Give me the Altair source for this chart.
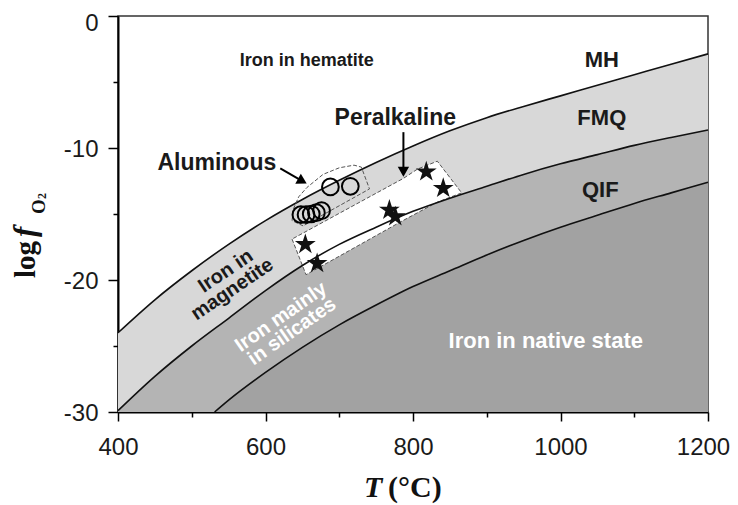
import altair as alt
import pandas as pd

# ---- buffer curves ----
T_GRID = [400, 450, 500, 550, 600, 650, 700, 750, 800, 850, 900, 950, 1000, 1050, 1100, 1150, 1200]
MH_LOGF = [-24.0, -21.5, -19.3, -17.3, -15.5, -13.9, -12.45, -11.1, -9.85, -8.7, -7.7, -6.85, -6.05, -5.25, -4.45, -3.65, -2.87]
FMQ_LOGF = [-29.9, -27.3, -25.0, -22.9, -20.8, -18.9, -17.3, -16.0, -14.8, -13.8, -12.9, -12.0, -11.2, -10.5, -9.8, -9.2, -8.64]
QIF_T = [531, 550, 600, 650, 700, 750, 800, 850, 900, 950, 1000, 1050, 1100, 1150, 1200]
QIF_LOGF = [-30.0, -29.1, -27.0, -25.1, -23.4, -21.9, -20.5, -19.3, -18.1, -17.0, -16.0, -15.1, -14.2, -13.4, -12.6]

# ---- samples ----
AL_T = [648, 655, 662, 669, 676, 688, 715]
AL_LOGF = [-15.05, -15.05, -15.0, -14.9, -14.75, -12.95, -12.9]
PA_T = [654, 670, 768, 776, 818, 841]
PA_LOGF = [-17.3, -18.75, -14.7, -15.2, -11.8, -13.05]

# ---- envelopes ----
AL_ENV_T = [651, 636, 638, 645, 656, 678, 700, 720, 730, 741]
AL_ENV_LOGF = [-15.9, -15.5, -14.6, -13.7, -13.0, -12.0, -11.5, -11.3, -11.45, -13.1]
PA_ENV_T = [636, 655, 700, 783, 833, 866, 833, 806, 787, 700]
PA_ENV_LOGF = [-16.9, -19.6, -18.2, -15.6, -14.1, -13.4, -11.0, -11.6, -12.3, -14.95]
PA_FILL_T = [636, 655, 700, 783, 787, 806, 833, 866]
PA_FILL_TOP = [-16.9, -16.32, -14.95, -12.42, -12.3, -11.6, -11.0, -13.4]
PA_FILL_BOT = [-16.9, -19.6, -18.2, -15.6, -15.48, -14.9, -14.1, -13.4]

# ---- arrows ----
AL_ARROW_T = [620, 650]
AL_ARROW_LOGF = [-11.55, -12.51]
PA_ARROW_T = [787, 787]
PA_ARROW_LOGF = [-8.8, -11.8]

# ---- labels ----
BLACK_LABELS = ["Iron in hematite", "MH", "FMQ", "QIF", "Peralkaline", "Aluminous"]
BLACK_LABEL_T = [656, 1056, 1056, 1054, 776, 534]
BLACK_LABEL_LOGF = [-3.39, -3.34, -7.76, -13.2, -7.76, -11.17]
BLACK_LABEL_SIZE = [18, 22, 22, 22, 23, 23]
MAG_LABELS = ["Iron in", "magnetite"]
MAG_T = [546, 555]
MAG_LOGF = [-19.33, -20.7]
SIL_LABELS = ["Iron mainly", "in silicates"]
SIL_T = [621, 636]
SIL_LOGF = [-22.8, -23.9]
NATIVE_LABEL = ["Iron in native state"]
NATIVE_T = [980]
NATIVE_LOGF = [-24.6]

X_TICKS = [400, 500, 600, 700, 800, 900, 1000, 1100, 1200]
Y_TICKS = [-30, -25, -20, -15, -10, -5, 0]

STAR = "M0,-1L0.2245,-0.309L0.951,-0.309L0.363,0.118L0.588,0.809L0,0.382L-0.588,0.809L-0.363,0.118L-0.951,-0.309L-0.2245,-0.309Z"

curves = pd.DataFrame({"T": T_GRID, "MH": MH_LOGF, "FMQ": FMQ_LOGF})
qif = pd.DataFrame({"T": QIF_T, "QIF": QIF_LOGF})
al = pd.DataFrame({"T": AL_T, "logf": AL_LOGF})
pa = pd.DataFrame({"T": PA_T, "logf": PA_LOGF})
al_env = pd.DataFrame({"T": AL_ENV_T, "logf": AL_ENV_LOGF, "i": range(len(AL_ENV_T))})
pa_env = pd.DataFrame({"T": PA_ENV_T, "logf": PA_ENV_LOGF, "i": range(len(PA_ENV_T))})
pa_fill = pd.DataFrame({"T": PA_FILL_T, "top": PA_FILL_TOP, "bot": PA_FILL_BOT})
al_arrow = pd.DataFrame({"T": AL_ARROW_T, "logf": AL_ARROW_LOGF})
pa_arrow = pd.DataFrame({"T": PA_ARROW_T, "logf": PA_ARROW_LOGF})
blab = pd.DataFrame({"T": BLACK_LABEL_T, "logf": BLACK_LABEL_LOGF, "label": BLACK_LABELS, "size": BLACK_LABEL_SIZE})
mag = pd.DataFrame({"T": MAG_T, "logf": MAG_LOGF, "label": MAG_LABELS})
sil = pd.DataFrame({"T": SIL_T, "logf": SIL_LOGF, "label": SIL_LABELS})
nat = pd.DataFrame({"T": NATIVE_T, "logf": NATIVE_LOGF, "label": NATIVE_LABEL})

xscale = alt.Scale(domain=[400, 1200], nice=False, zero=False)
yscale = alt.Scale(domain=[-30, 0], nice=False, zero=False)
xaxis = alt.Axis(
    title=None, values=X_TICKS, grid=False, labelFlush=False,
    labelExpr="datum.value % 200 == 0 ? '' + datum.value : ''",
    tickSize={"condition": {"test": "datum.value % 200 == 0", "value": 9}, "value": 5},
    labelOffset={"condition": {"test": "datum.value == 1200", "value": -5}, "value": 0},
    labelPadding=14,
)
yaxis = alt.Axis(
    title=None, values=Y_TICKS, grid=False, labelFlush=False,
    labelExpr="datum.value % 10 == 0 ? '' + datum.value : ''",
    tickSize={"condition": {"test": "datum.value % 10 == 0", "value": 10}, "value": 5},
    labelOffset={"condition": {"test": "datum.value == 0", "value": 7}, "value": 1},
    labelPadding=10,
)


def X(f="T"):
    return alt.X(f"{f}:Q", scale=xscale, axis=xaxis)


def Y(f):
    return alt.Y(f"{f}:Q", scale=yscale, axis=yaxis)


base_c = alt.Chart(curves)
area_mag = base_c.mark_area(color="#d8d8d8", interpolate="monotone").encode(x=X(), y=Y("MH"), y2="FMQ:Q")
area_sil = base_c.mark_area(color="#b4b4b4", interpolate="monotone").encode(x=X(), y=Y("FMQ"), y2=alt.datum(-30))
area_nat = alt.Chart(qif).mark_area(color="#a2a2a2", interpolate="monotone").encode(x=X(), y=Y("QIF"), y2=alt.datum(-30))

pa_white = alt.Chart(pa_fill).mark_area(color="white").encode(x=X(), y=Y("top"), y2="bot:Q")
pa_outline = alt.Chart(pa_env).mark_line(color="#555", strokeWidth=1, strokeDash=[4, 2], interpolate="linear-closed").encode(
    x=X(), y=Y("logf"), order="i:Q")

line_mh = base_c.mark_line(color="#111", strokeWidth=1.6, interpolate="monotone").encode(x=X(), y=Y("MH"))
line_fmq = base_c.mark_line(color="#111", strokeWidth=1.6, interpolate="monotone").encode(x=X(), y=Y("FMQ"))
line_qif = alt.Chart(qif).mark_line(color="#111", strokeWidth=1.6, interpolate="monotone").encode(x=X(), y=Y("QIF"))

al_outline = alt.Chart(al_env).mark_line(color="#555", strokeWidth=1, strokeDash=[4, 2], interpolate="linear-closed").encode(
    x=X(), y=Y("logf"), order="i:Q")

circles = alt.Chart(al).mark_point(shape="circle", filled=False, color="black", strokeWidth=2, size=280, opacity=1).encode(
    x=X(), y=Y("logf"))
stars = alt.Chart(pa).mark_point(shape=STAR, filled=True, color="#111", size=480, opacity=1).encode(x=X(), y=Y("logf"))

arr1 = alt.Chart(al_arrow).mark_line(color="black", strokeWidth=2).encode(x=X(), y=Y("logf"))
arr1h = alt.Chart(al_arrow.iloc[[1]]).mark_point(shape="triangle-right", filled=True, color="black", size=130, angle=29, opacity=1).encode(
    x=X(), y=Y("logf"))
arr2 = alt.Chart(pa_arrow).mark_line(color="black", strokeWidth=2).encode(x=X(), y=Y("logf"))
arr2h = alt.Chart(pa_arrow.iloc[[1]]).mark_point(shape="triangle-down", filled=True, color="black", size=130, opacity=1).encode(
    x=X(), y=Y("logf"))

txt_black = alt.Chart(blab).mark_text(font="Liberation Sans", fontWeight="bold", color="#1a1a1a", align="center", baseline="middle").encode(
    x=X(), y=Y("logf"), text="label:N", size=alt.Size("size:Q", scale=None, legend=None))
txt_mag = alt.Chart(mag).mark_text(font="Liberation Sans", fontWeight="bold", fontSize=20, color="#1a1a1a", angle=326,
                                   align="center", baseline="middle").encode(x=X(), y=Y("logf"), text="label:N")
txt_sil = alt.Chart(sil).mark_text(font="Liberation Sans", fontWeight="bold", fontSize=20, color="white", angle=325,
                                   align="center", baseline="middle").encode(x=X(), y=Y("logf"), text="label:N")
txt_nat = alt.Chart(nat).mark_text(font="Liberation Sans", fontWeight="bold", fontSize=22, color="white",
                                   align="center", baseline="middle").encode(x=X(), y=Y("logf"), text="label:N")

# axis titles composed of styled pieces
title_df = pd.DataFrame({"k": [0]})
tb = alt.Chart(title_df)
yt_log = tb.mark_text(text="log", font="Liberation Serif", fontWeight="bold", fontSize=29, angle=270, align="left",
                      baseline="alphabetic", color="#111").encode(x=alt.value(-83), y=alt.value(262))
yt_f = tb.mark_text(text="f", font="Liberation Serif", fontWeight="bold", fontStyle="italic", fontSize=31, angle=270,
                    align="left", baseline="alphabetic", color="#111").encode(x=alt.value(-83), y=alt.value(221))
yt_o = tb.mark_text(text="O", font="Liberation Serif", fontWeight="bold", fontSize=19, angle=270, align="left",
                    baseline="alphabetic", color="#111").encode(x=alt.value(-73), y=alt.value(198))
yt_2 = tb.mark_text(text="2", font="Liberation Serif", fontWeight="bold", fontSize=12, angle=270, align="left",
                    baseline="alphabetic", color="#111").encode(x=alt.value(-72), y=alt.value(183))
xt_T = tb.mark_text(text="T", font="Liberation Serif", fontWeight="bold", fontStyle="italic", fontSize=30, align="left",
                    baseline="alphabetic", color="#111").encode(x=alt.value(246), y=alt.value(481))
xt_c = tb.mark_text(text="(°C)", font="Liberation Serif", fontWeight="bold", fontSize=30, align="left",
                    baseline="alphabetic", color="#111").encode(x=alt.value(270), y=alt.value(481))

chart = alt.layer(
    area_mag, area_sil, area_nat, pa_white, pa_outline,
    line_mh, line_fmq, line_qif, al_outline,
    circles, stars, arr1, arr1h, arr2, arr2h,
    txt_black, txt_mag, txt_sil, txt_nat,
    yt_log, yt_f, yt_o, yt_2, xt_T, xt_c,
).properties(
    width=590, height=396,
    autosize=alt.AutoSizeParams(type="none"),
    padding={"left": 110, "top": 8, "right": 22, "bottom": 96},
).configure_view(
    stroke="#333", strokeWidth=1.5
).configure_axis(
    domainColor="black", domainWidth=2, tickColor="black", tickWidth=1.5,
    labelFont="Liberation Sans", labelFontSize=24, labelColor="#1a1a1a",
)

chart.save("out.html", embed_options={"renderer": "svg", "actions": False})
